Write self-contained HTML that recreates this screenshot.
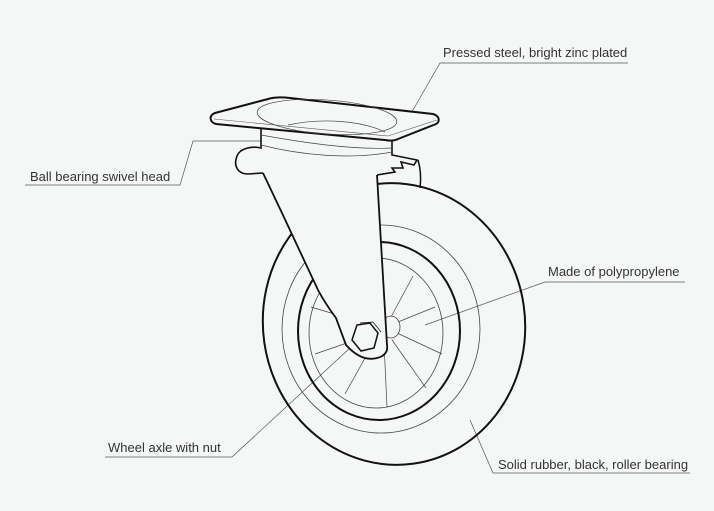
<!DOCTYPE html>
<html><head><style>
html,body{margin:0;padding:0;background:#f5f6f6;}
svg{display:block}
text{font-family:"Liberation Sans",sans-serif;font-size:13px;fill:#333;}
</style></head><body>
<svg width="714" height="511" viewBox="0 0 714 511">
<rect width="714" height="511" fill="#f5f6f6"/>
<g fill="none" stroke="#555" stroke-width="0.7">
<polyline points="628,63 440,63 409,117"/>
<polyline points="25,185 180,185 193,141 262,141"/>
<polyline points="685,282 545,282 425,325"/>
<polyline points="105,457 232,457 363,336"/>
<polyline points="690,473 493,473 470,420"/>
</g>
<text x="443" y="57">Pressed steel, bright zinc plated</text>
<text x="30" y="181">Ball bearing swivel head</text>
<text x="548" y="276">Made of polypropylene</text>
<text x="108" y="452">Wheel axle with nut</text>
<text x="498" y="469">Solid rubber, black, roller bearing</text>

<g fill="none" stroke="#111">
<ellipse cx="394" cy="324" rx="131" ry="141" stroke-width="2" transform="rotate(-8 394 324)"/>
<ellipse cx="381" cy="329" rx="99" ry="104" stroke-width="0.8" stroke="#444"/>
<ellipse cx="379" cy="331" rx="81" ry="89" stroke-width="2"/>
<ellipse cx="376" cy="333" rx="67" ry="75" stroke-width="0.8" stroke="#444"/>
<g stroke="#444" stroke-width="0.7">
<line x1="398" y1="322" x2="435" y2="307"/>
<line x1="397" y1="333" x2="442" y2="354"/>
<line x1="392" y1="340" x2="426" y2="388"/>
<line x1="384" y1="343" x2="387" y2="407"/>
<line x1="374" y1="342" x2="345" y2="394"/>
<line x1="370" y1="335" x2="315" y2="354"/>
<line x1="371" y1="325" x2="311" y2="307"/>
<line x1="377" y1="318" x2="335" y2="287"/>
<line x1="384" y1="316" x2="378" y2="264"/>
<line x1="391" y1="317" x2="413" y2="276"/>
</g>
<ellipse cx="391" cy="327" rx="9" ry="11" stroke-width="0.8" stroke="#444" fill="#f5f6f6"/>
<path d="M418,160 C421,170 421,180 420,188" stroke-width="1.5"/>
<path d="M263,173 L282,213 L318,290 C325,303 330,310 336,318 L346,345 C356,356 366,361 377,358 C386,356 388,350 387,345 L377,175" fill="#f5f6f6" stroke-width="1.8"/>
<polygon points="357,325 370,323 378,333 374,348 361,351 352,340" fill="#f5f6f6" stroke-width="1.5"/>
<polyline points="360,323 373,322 381,332" stroke-width="0.7"/>
<path d="M261,128 L261,148 C252,146 240,148 237,156 C233,166 238,174 248,174 L263,173" fill="#f5f6f6" stroke-width="1.6"/>
<path d="M392,140 L392,155 L417,160 L414,165 L401,162 L403,168 L392,168 L395,172 L377,175" fill="#f5f6f6" stroke-width="1.6"/>
<path d="M261,135 C300,142 350,150 392,148" stroke-width="0.7" stroke="#444"/>
<path d="M261,145 C300,155 350,160 392,152" stroke-width="0.7" stroke="#444"/>
<path d="M215,113 L268,99 C275,97 282,97 290,98 L433,114 C440,116 440,122 436,124 L398,139 C394,141 390,141 385,140 L216,124 C209,122 209,115 215,113 Z" fill="#f5f6f6" stroke-width="2"/>
<path d="M214,119 L388,136 L437,120" stroke-width="0.6" stroke="#555"/>
<ellipse cx="327" cy="117" rx="70" ry="17" stroke-width="0.7" stroke="#444" transform="rotate(4 327 117)"/>
<path d="M288,125 C320,118 360,120 385,132" stroke-width="0.7" stroke="#444"/>
</g>
</svg>
</body></html>
